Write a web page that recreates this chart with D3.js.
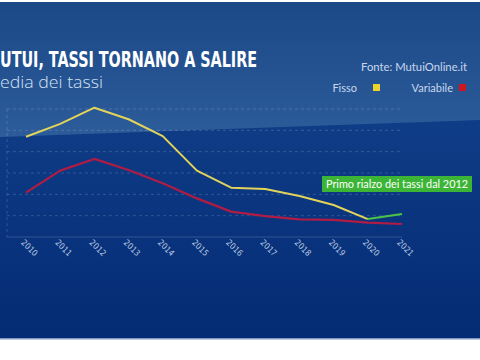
<!DOCTYPE html>
<html><head><meta charset="utf-8">
<script src="https://cdn.jsdelivr.net/npm/d3@7"></script>
<style>html,body{margin:0;padding:0;background:#fff;overflow:hidden}svg{display:block}</style>
</head><body>
<svg id="c" width="480" height="360"></svg>
<script>
const years = ["2010","2011","2012","2013","2014","2015","2016","2017","2018","2019","2020","2021"];
const fisso = [4.70,5.30,6.06,5.52,4.73,3.11,2.31,2.25,1.92,1.50,0.84,1.08];
const variabile = [2.08,3.11,3.66,3.14,2.52,1.81,1.19,0.98,0.83,0.80,0.67,0.61];
const gridTicks = [0,1,2,3,4,5,6];
const title = "MUTUI, TASSI TORNANO A SALIRE";
const subtitle = "Media dei tassi";
const source = "Fonte: MutuiOnline.it";
const seriesNames = ["Fisso","Variabile"];
const note = "Primo rialzo dei tassi dal 2012";

const svg = d3.select("#c");
const defs = svg.append("defs");
const g1 = defs.append("linearGradient").attr("id","bgLow").attr("x1",0).attr("y1",0).attr("x2",0).attr("y2",1);
g1.append("stop").attr("offset","0%").attr("stop-color","#164690");
g1.append("stop").attr("offset","100%").attr("stop-color","#032b74");
const g2 = defs.append("linearGradient").attr("id","bgHigh").attr("x1",0).attr("y1",0).attr("x2",0).attr("y2",1);
g2.append("stop").attr("offset","0%").attr("stop-color","#1b4887");
g2.append("stop").attr("offset","100%").attr("stop-color","#2d5c9a");

// background
svg.append("rect").attr("x",0).attr("y",0).attr("width",480).attr("height",360).attr("fill","#ffffff");
svg.append("rect").attr("x",0).attr("y",2).attr("width",480).attr("height",337).attr("fill","url(#bgLow)");
svg.append("path").attr("d","M0,2 L480,2 L480,120 L0,137 Z").attr("fill","url(#bgHigh)");
svg.append("rect").attr("x",0).attr("y",338).attr("width",480).attr("height",1.5).attr("fill","#7f98c4");

// scales
const x = d3.scalePoint().domain(years).range([26,402]);
const y = d3.scaleLinear().domain([0,6]).range([237,109]);

// grid
svg.append("g").selectAll("line").data(gridTicks).join("line")
  .attr("x1",7).attr("x2",402).attr("y1",d=>y(d)).attr("y2",d=>y(d))
  .attr("stroke","rgba(255,255,255,0.16)").attr("stroke-width",1)
  .attr("stroke-dasharray",d=>d===0?null:"3,3");
svg.append("line").attr("x1",7).attr("x2",7).attr("y1",y(6)).attr("y2",y(0))
  .attr("stroke","rgba(255,255,255,0.16)").attr("stroke-dasharray","3,3");

// x axis
const xAxis = d3.axisBottom(x).tickSize(0).tickPadding(0);
const ax = svg.append("g").attr("transform","translate(0,243)").call(xAxis);
ax.select(".domain").remove();
ax.selectAll("text")
  .attr("text-anchor","start").attr("dy",0)
  .attr("transform","translate(-6,0) rotate(45)")
  .attr("fill","#b9c9e2").attr("font-family","Liberation Sans Narrow, DejaVu Sans Condensed, sans-serif")
  .attr("font-size",8.5);

// lines
const line = d3.line().x(d=>x(d.year)).y(d=>y(d.v));
const fData = years.map((yr,i)=>({year:yr,v:fisso[i]}));
const vData = years.map((yr,i)=>({year:yr,v:variabile[i]}));
svg.append("path").attr("d",line(vData)).attr("fill","none").attr("stroke","#b01c44").attr("stroke-width",2.2).attr("stroke-linejoin","round");
svg.append("path").attr("d",line(fData.slice(0,11))).attr("fill","none").attr("stroke","#e2d35a").attr("stroke-width",2).attr("stroke-linejoin","round");
svg.append("path").attr("d",line(fData.slice(10))).attr("fill","none").attr("stroke","#4cc448").attr("stroke-width",2);

// note
svg.append("rect").attr("x",322).attr("y",176).attr("width",150).attr("height",16).attr("fill","#3cb536");
svg.append("text").attr("x",326).attr("y",188).text(note)
  .attr("fill","#ffffff").attr("font-family","Lato, Open Sans, sans-serif").attr("font-size",11.5)
  .attr("textLength",142).attr("lengthAdjust","spacingAndGlyphs");

// titles (first letter lies just off the left edge, as in the reference crop)
const tFont = "Liberation Sans Narrow, DejaVu Sans Condensed, sans-serif";
svg.append("text").attr("x",-1).attr("y",67).attr("text-anchor","end").text(title.slice(0,1))
  .attr("fill","#ffffff").attr("font-family",tFont).attr("font-weight","bold").attr("font-size",21);
svg.append("text").attr("x",0).attr("y",67).text(title.slice(1))
  .attr("fill","#ffffff").attr("font-family",tFont).attr("font-weight","bold").attr("font-size",21)
  .attr("textLength",257).attr("lengthAdjust","spacingAndGlyphs");
svg.append("text").attr("x",-1).attr("y",88).attr("text-anchor","end").text(subtitle.slice(0,1))
  .attr("fill","#d3e0f3").attr("font-family","Open Sans, sans-serif").attr("font-weight",300).attr("font-size",16.5);
svg.append("text").attr("x",0).attr("y",88).text(subtitle.slice(1))
  .attr("fill","#d3e0f3").attr("font-family","Open Sans, sans-serif").attr("font-weight",300).attr("font-size",16.5)
  .attr("textLength",103).attr("lengthAdjust","spacingAndGlyphs");
svg.append("text").attr("x",467).attr("y",71).attr("text-anchor","end").text(source)
  .attr("fill","#c9d7ee").attr("font-family","Lato, sans-serif").attr("font-size",11)
  .attr("textLength",106).attr("lengthAdjust","spacingAndGlyphs");

// legend
const leg = [{name:seriesNames[0],tx:357,sx:373,c:"#ecd22a"},{name:seriesNames[1],tx:453,sx:459,c:"#d0161f"}];
const lg = svg.append("g").selectAll("g").data(leg).join("g");
lg.append("text").attr("x",d=>d.tx).attr("y",92).attr("text-anchor","end").text(d=>d.name)
  .attr("fill","#c9d7ee").attr("font-family","Lato, sans-serif").attr("font-size",11);
lg.append("rect").attr("x",d=>d.sx).attr("y",84).attr("width",7).attr("height",7).attr("fill",d=>d.c);
</script>
</body></html>
